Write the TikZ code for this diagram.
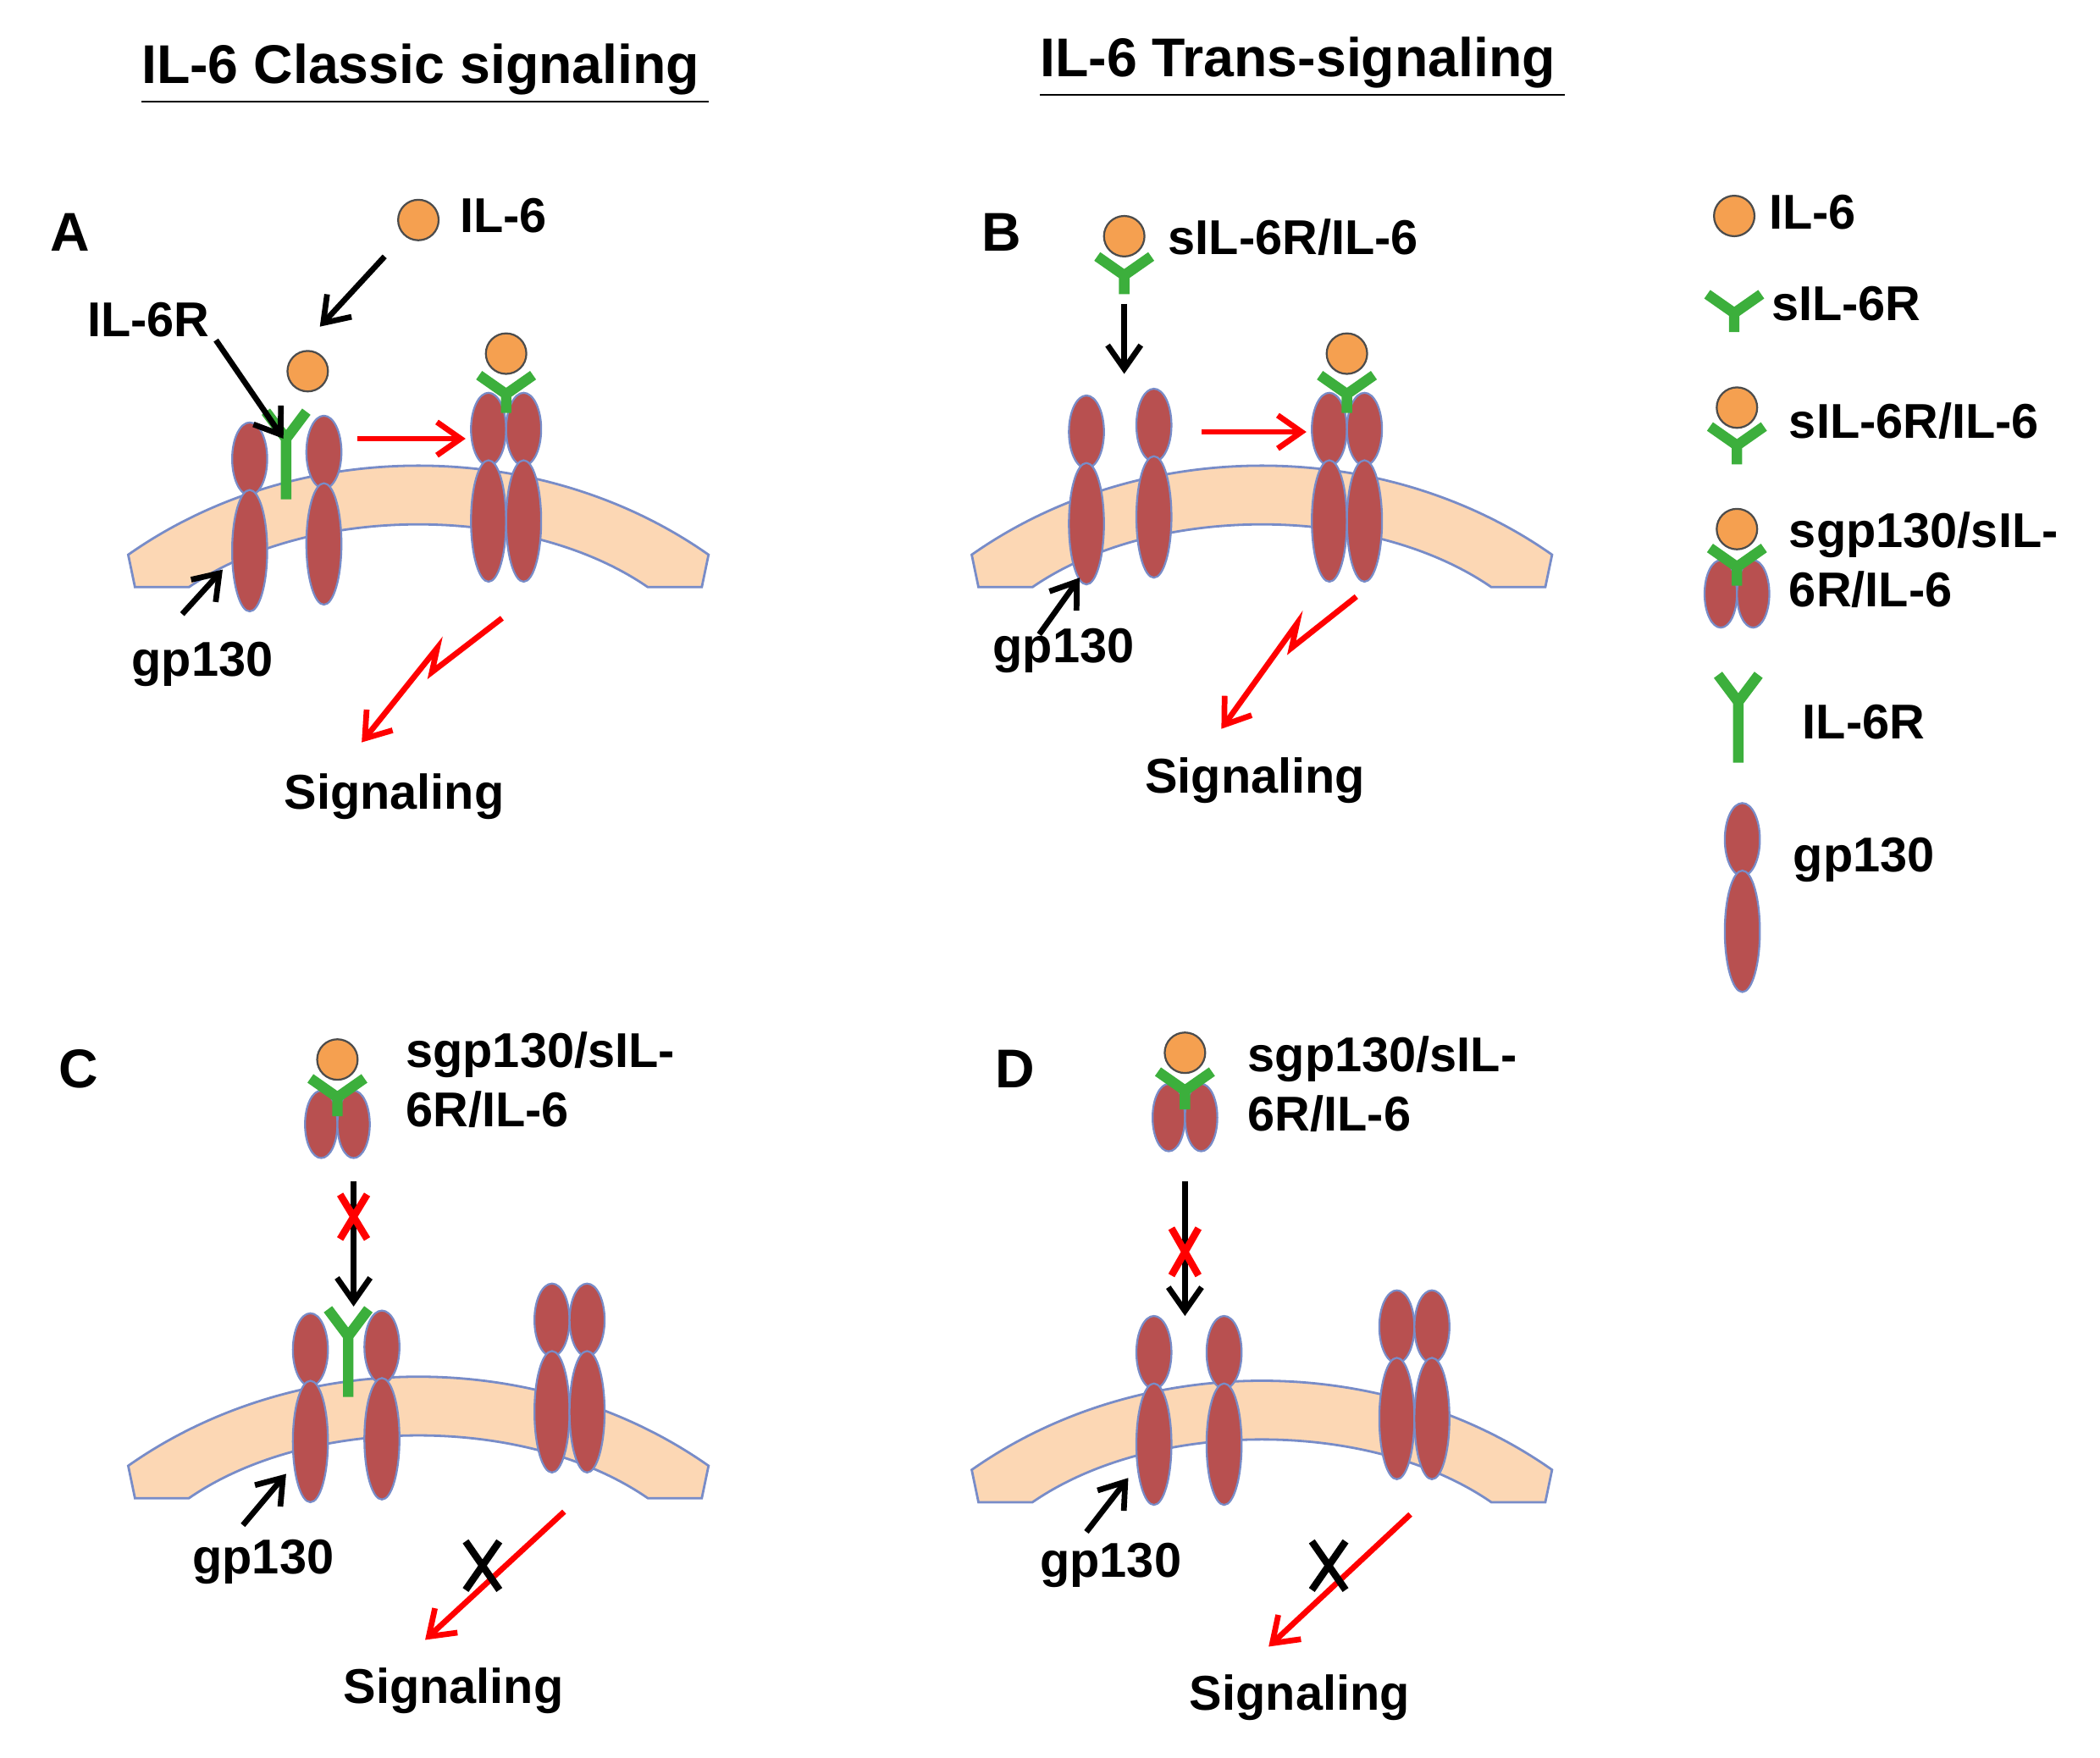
\documentclass[tikz,border=0pt]{standalone}
\usepackage{fontspec}
\setmainfont{Liberation Sans}
\usetikzlibrary{arrows.meta,positioning}
\definecolor{gpred}{RGB}{184,80,80}
\definecolor{gpedge}{RGB}{120,140,200}
\definecolor{ilorange}{RGB}{245,160,80}
\definecolor{memfill}{RGB}{252,215,180}
\definecolor{ygreen}{RGB}{60,175,60}
\tikzset{
  lbl/.style={font=\fontsize{10.3}{12.5}\selectfont\bfseries, inner sep=0pt, align=left},
  ttl/.style={lbl, font=\fontsize{11.5}{13}\selectfont\bfseries},
  oval/.style={fill=gpred, draw=gpedge, line width=0.4pt},
  ball/.style={circle, fill=ilorange, draw=black!70, line width=0.4pt, minimum size=0.3cm, inner sep=0pt},
  arr/.style={line width=1.2pt, -{Straight Barb[length=5pt,width=7pt]}},
  redarr/.style={arr, red},
  ystyle/.style={ygreen, line width=2.2pt},
  gp/.pic={\draw[oval] (0,0) ellipse [x radius=13, y radius=27];
           \draw[oval] (0,68) ellipse [x radius=13, y radius=45];},
  yrec/.pic={\draw[ystyle] (0,0) -- (0,50) (-15,-15) -- (0,5) -- (15,-15);},
  ywide/.pic={\draw[ystyle] (0,0) -- (0,18) (-20,-10) -- (0,4) -- (20,-10);},
  membrane/.pic={\draw[fill=memfill, draw=gpedge, line width=0.5pt]
     (-215,63) .. controls (-90,-25) and (90,-25) .. (215,63) -- (210,87) -- (170,87)
     .. controls (80,25) and (-80,25) .. (-170,87) -- (-210,87) -- cycle;},
  sgpc/.pic={\draw[oval] (-12,48) ellipse [x radius=12, y radius=25];
             \draw[oval] (12,48) ellipse [x radius=12, y radius=25];
             \pic at (0,24) {ywide};
             \node[ball] at (0,0) {};},
  dimer/.pic={\pic at (-13,0) {gp}; \pic at (13,0) {gp};},
  active/.pic={\pic at (0,0) {dimer}; \pic at (0,-30) {ywide};
               \node[ball] at (0,-56) {};},
  redx/.style={red, line width=1.5pt},
}
\begin{document}
\begin{tikzpicture}[x=0.01cm, y=-0.01cm]
\useasboundingbox (0,0) rectangle (1556,1302);

% titles
\node[ttl] (t1) at (315,55) {\underline{IL-6 Classic signaling\,}};
\node[ttl] (t2) at (965,50) {\underline{IL-6 Trans-signaling\,}};
\node[ttl] (la) at (52,172) {A};
\node[ttl] (lb) at (742,172) {B};
\node[ttl] (lc) at (58,792) {C};
\node[ttl] (ld) at (752,792) {D};

% panel A
\pic at (310,348) {membrane};
\pic at (185,340) {gp};
\pic at (240,335) {gp};
\pic at (212,320) {yrec};
\pic at (375,318) {active};
\node[ball] (il6a) at (228,275) {};
\node[ball] (il6free) at (310,163) {};
\node[lbl, anchor=west] (il6lab) at (340,160) {IL-6};
\node[lbl] (il6r) at (110,237) {IL-6R};
\node[lbl] (gpa) at (150,492) {gp130};
\coordinate (a1) at (285,190); \coordinate (a2) at (237,242);
\coordinate (a3) at (160,252); \coordinate (a4) at (210,325);
\coordinate (a5) at (135,455); \coordinate (a6) at (165,422);
\coordinate (a7) at (265,325); \coordinate (a8) at (345,325);
\draw[arr] (a1) -- (a2);
\draw[arr] (a3) -- (a4);
\draw[arr] (a5) -- (a6);
\draw[redarr] (a7) -- (a8);
\node[lbl] (siga) at (292,590) {Signaling};
\coordinate (za) at (372,458);
\draw[redarr] (za) -- ++(-52,40) -- ++(4,-18) -- ++(-56,70);

% panel B
\pic at (935,348) {membrane};
\pic at (805,320) {gp};
\pic at (855,315) {gp};
\pic at (998,318) {active};
\node[ball] (cb) at (833,175) {};
\pic at (833,200) {ywide};
\node[lbl, anchor=west] (sb) at (865,176) {sIL-6R/IL-6};
\coordinate (b1) at (833,225); \coordinate (b2) at (833,277);
\coordinate (b3) at (890,320); \coordinate (b4) at (968,320);
\coordinate (b5) at (770,470); \coordinate (b6) at (800,428);
\draw[arr] (b1) -- (b2);
\draw[redarr] (b3) -- (b4);
\draw[arr] (b5) -- (b6);
\node[lbl] (gpb) at (788,482) {gp130};
\node[lbl] (sigb) at (930,578) {Signaling};
\coordinate (zb) at (1005,442);
\draw[redarr] (zb) -- ++(-48,38) -- ++(4,-18) -- ++(-56,78);

% panel C
\pic at (310,1023) {membrane};
\pic at (230,1000) {gp};
\pic at (283,998) {gp};
\pic at (258,985) {yrec};
\pic at (422,978) {dimer};
\pic at (250,785) {sgpc};
\node[lbl, anchor=west] (sc) at (300,800) {sgp130/sIL-\\6R/IL-6};
\coordinate (c1) at (262,875); \coordinate (c2) at (262,968);
\coordinate (c3) at (180,1130); \coordinate (c4) at (212,1092);
\coordinate (c5) at (418,1120); \coordinate (c6) at (315,1215);
\draw[arr] (c1) -- (c2);
\draw[redx] (252,885) -- (272,918) (272,885) -- (252,918);
\draw[arr] (c3) -- (c4);
\draw[redarr] (c5) -- (c6);
\draw[line width=1.5pt] (345,1142) -- (370,1178) (370,1142) -- (345,1178);
\node[lbl] (gpc) at (195,1157) {gp130};
\node[lbl] (sigc) at (336,1253) {Signaling};

% panel D
\pic at (935,1026) {membrane};
\pic at (855,1002) {gp};
\pic at (907,1002) {gp};
\pic at (1048,983) {dimer};
\pic at (878,780) {sgpc};
\node[lbl, anchor=west] (sd) at (924,803) {sgp130/sIL-\\6R/IL-6};
\coordinate (d1) at (878,875); \coordinate (d2) at (878,975);
\coordinate (d3) at (805,1135); \coordinate (d4) at (836,1095);
\coordinate (d5) at (1045,1122); \coordinate (d6) at (940,1220);
\draw[arr] (d1) -- (d2);
\draw[redx] (868,910) -- (888,945) (888,910) -- (868,945);
\draw[arr] (d3) -- (d4);
\draw[redarr] (d5) -- (d6);
\draw[line width=1.5pt] (972,1142) -- (997,1178) (997,1142) -- (972,1178);
\node[lbl] (gpd) at (823,1160) {gp130};
\node[lbl] (sigd) at (963,1258) {Signaling};

% legend
\node[ball] (k1) at (1285,160) {};
\node[lbl, anchor=west] (k1t) at (1310,157) {IL-6};
\pic at (1285,228) {ywide};
\node[lbl, anchor=west] (k2t) at (1312,225) {sIL-6R};
\node[ball] (k3) at (1287,302) {};
\pic at (1287,326) {ywide};
\node[lbl, anchor=west] (k3t) at (1325,312) {sIL-6R/IL-6};
\pic at (1287,392) {sgpc};
\node[lbl, anchor=west] (k4t) at (1325,415) {sgp130/sIL-\\6R/IL-6};
\pic at (1288,515) {yrec};
\node[lbl, anchor=west] (k5t) at (1335,535) {IL-6R};
\pic at (1291,622) {gp};
\node[lbl, anchor=west] (k6t) at (1328,637) {gp130};
\end{tikzpicture}
\end{document}
